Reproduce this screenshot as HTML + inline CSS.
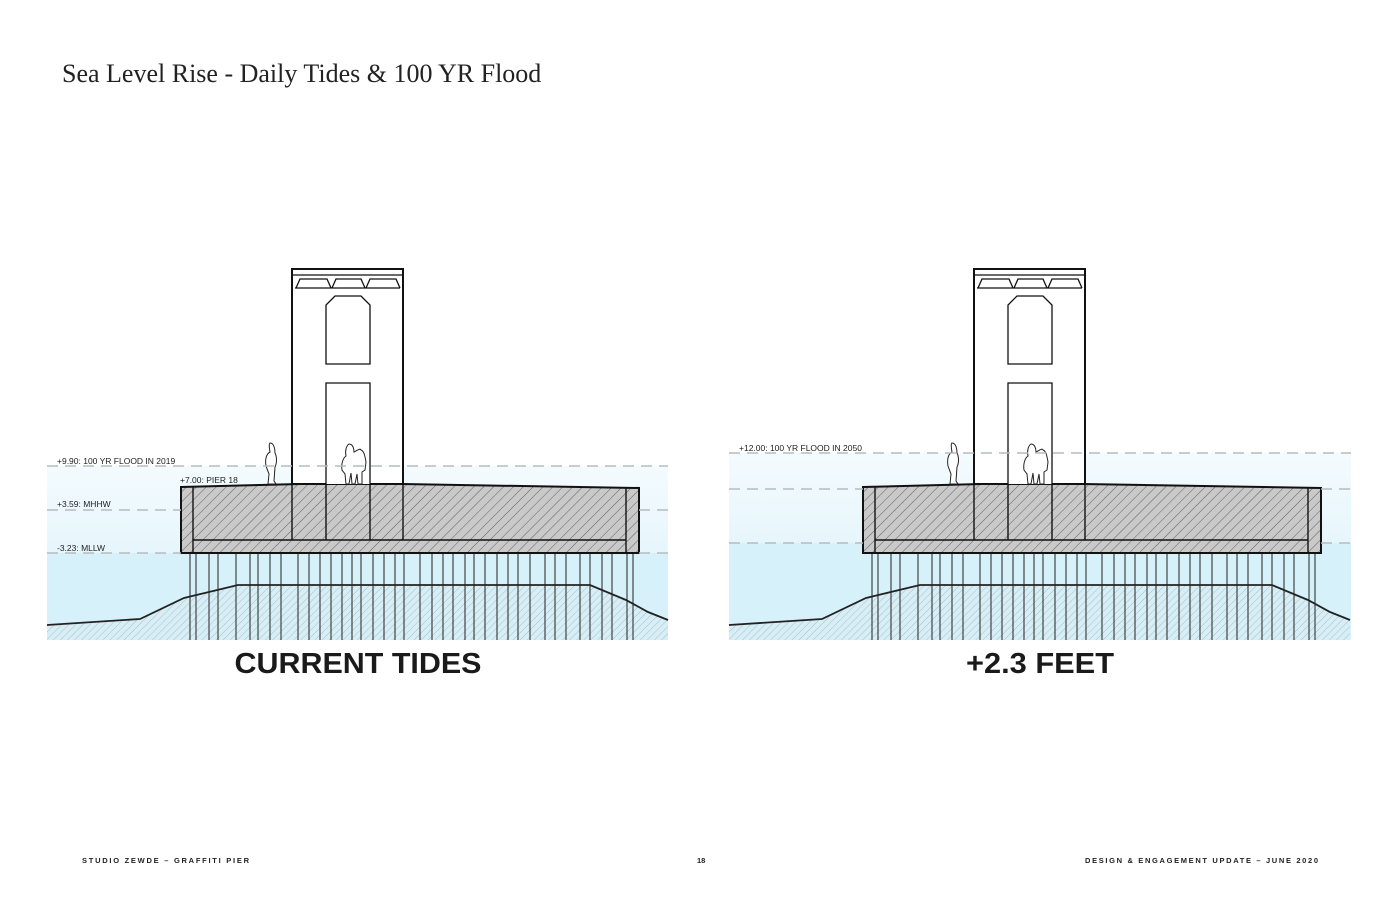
<!DOCTYPE html>
<html><head><meta charset="utf-8"><style>
html,body{margin:0;padding:0;background:#fff;width:1400px;height:905px;overflow:hidden}
svg{display:block}
</style></head><body>
<svg width="1400" height="905" viewBox="0 0 1400 905" xmlns="http://www.w3.org/2000/svg">
<defs>
<pattern id="hd" width="7" height="7" patternUnits="userSpaceOnUse" patternTransform="rotate(45)">
<rect width="7" height="7" fill="#c9c9c9"/><line x1="0" y1="0" x2="0" y2="7" stroke="#555" stroke-width="0.9"/></pattern>
<pattern id="hg" width="5" height="5" patternUnits="userSpaceOnUse" patternTransform="rotate(45)">
<rect width="5" height="5" fill="#d8eef6"/><line x1="0" y1="0" x2="0" y2="5" stroke="#9fb3bd" stroke-width="0.8"/></pattern>
<linearGradient id="wg" x1="0" y1="0" x2="0" y2="1"><stop offset="0" stop-color="#f4fbfe"/><stop offset="0.5" stop-color="#e6f6fc"/><stop offset="1" stop-color="#d4f0fa"/></linearGradient>
<g id="pier">
<path d="M47,625 L140,619 L184,598 L238,585 L590,585 L626,600 L648,612 L668,620 L668,640 L47,640 Z" fill="url(#hg)"/>
<path d="M47,625 L140,619 L184,598 L238,585 L590,585 L626,600 L648,612 L668,620" fill="none" stroke="#222" stroke-width="1.8"/>
<path stroke="#222" stroke-width="1" fill="none" d="M190,553V640M196,553V640M209,553V640M218,553V640M236,553V640M250,553V640M258,553V640M270,553V640M281,553V640M298,553V640M309,553V640M320,553V640M331,553V640M342,553V640M352,553V640M361,553V640M373,553V640M384,553V640M395,553V640M404,553V640M420,553V640M432,553V640M443,553V640M453,553V640M465,553V640M474,553V640M485,553V640M497,553V640M508,553V640M518,553V640M530,553V640M545,553V640M555,553V640M566,553V640M580,553V640M590,553V640M602,553V640M612,553V640M627,553V640M633,553V640"/>
<path d="M181,487 L260,485 L340,483 L639,488 L639,553 L181,553 Z" fill="url(#hd)" stroke="#111" stroke-width="2"/>
<path d="M193,540 H626 M193,487 V553 M626,488 V553" stroke="#111" stroke-width="1.4" fill="none"/>
<rect x="292" y="269" width="111" height="215" fill="#fff" stroke="#111" stroke-width="2"/>
<path d="M292,484V540M403,484V540M326,484V540M370,484V540" stroke="#111" stroke-width="1.4"/>
<path d="M296,288 L300,279 L327,279 L331,288 M332,288 L336,279 L361,279 L365,288 M366,288 L370,279 L396,279 L400,288 M295,288 H400 M292,275 H403" stroke="#111" stroke-width="1.3" fill="none"/>
<path d="M326,364 V305 L335,296 L361,296 L370,305 V364 Z" fill="#fff" stroke="#111" stroke-width="1.3"/>
<path d="M326,484 V383 H370 V484" fill="#fff" stroke="#111" stroke-width="1.3"/>
<path d="M270,443 c4,0 5,6 5,10 c2,4 2,10 0,14 l-1,14 l2,3 h-8 l1,-10 l-3,-8 c-1,-6 0,-12 4,-14 c-1,-5 -1,-9 0,-9z" fill="#fff" stroke="#222" stroke-width="1"/>
<path d="M349,444 c4,0 5,5 5,8 c4,-2 6,-4 7,-2 c3,1 4,6 5,12 l-1,8 l-3,2 l0,12 h-4 l-1,-10 l-2,10 h-3 l-1,-11 l-2,11 h-3 l-1,-10 l-3,-4 c-1,-6 1,-12 4,-14 c-1,-5 0,-10 3,-12z" fill="#fff" stroke="#222" stroke-width="1"/>
</g>
</defs>

<text x="62" y="82" font-family="Liberation Serif, serif" font-size="26" fill="#222">Sea Level Rise - Daily Tides &amp; 100 YR Flood</text>

<rect x="47" y="466" width="621" height="174" fill="url(#wg)"/>
<rect x="47" y="553" width="621" height="87" fill="#d6f1fa"/>
<use href="#pier"/>
<g stroke="#b5bcc0" stroke-width="1.4" stroke-dasharray="11,7">
<line x1="47" y1="466" x2="668" y2="466"/><line x1="47" y1="510" x2="181" y2="510"/><line x1="639" y1="510" x2="668" y2="510"/><line x1="47" y1="553" x2="181" y2="553"/><line x1="639" y1="553" x2="668" y2="553"/></g>
<g font-family="Liberation Sans, sans-serif" font-size="8.5" fill="#222">
<text x="57" y="464">+9.90: 100 YR FLOOD IN 2019</text>
<text x="180" y="483">+7.00: PIER  18</text>
<text x="57" y="507">+3.59: MHHW</text>
<text x="57" y="551">-3.23: MLLW</text>
<text x="739" y="451">+12.00: 100 YR FLOOD IN 2050</text>
<text x="862" y="483">+7.00: PIER  18</text>
<text x="739" y="494">+5.89: MHHW</text>
<text x="739" y="539">-0.93: MLLW</text>
</g>

<rect x="729" y="453" width="622" height="187" fill="url(#wg)"/>
<rect x="729" y="543" width="622" height="97" fill="#d6f1fa"/>
<use href="#pier" transform="translate(682,0)"/>
<g stroke="#b5bcc0" stroke-width="1.4" stroke-dasharray="11,7">
<line x1="729" y1="453" x2="1351" y2="453"/><line x1="729" y1="489" x2="863" y2="489"/><line x1="1321" y1="489" x2="1351" y2="489"/><line x1="729" y1="543" x2="863" y2="543"/><line x1="1321" y1="543" x2="1351" y2="543"/></g>

<g font-family="Liberation Sans, sans-serif" font-weight="bold" font-size="29" fill="#1a1a1a" text-anchor="middle">
<text x="358" y="673" textLength="247" lengthAdjust="spacingAndGlyphs">CURRENT TIDES</text>
<text x="1040" y="673" textLength="148" lengthAdjust="spacingAndGlyphs">+2.3 FEET</text>
</g>
<g font-family="Liberation Sans, sans-serif" font-weight="bold" font-size="7.5" fill="#222">
<text x="82" y="863" textLength="167" lengthAdjust="spacing">STUDIO ZEWDE  –  GRAFFITI PIER</text>
<text x="697" y="863">18</text>
<text x="1085" y="863" textLength="233" lengthAdjust="spacing">DESIGN &amp; ENGAGEMENT UPDATE  – JUNE 2020</text>
</g>
</svg>
</body></html>
